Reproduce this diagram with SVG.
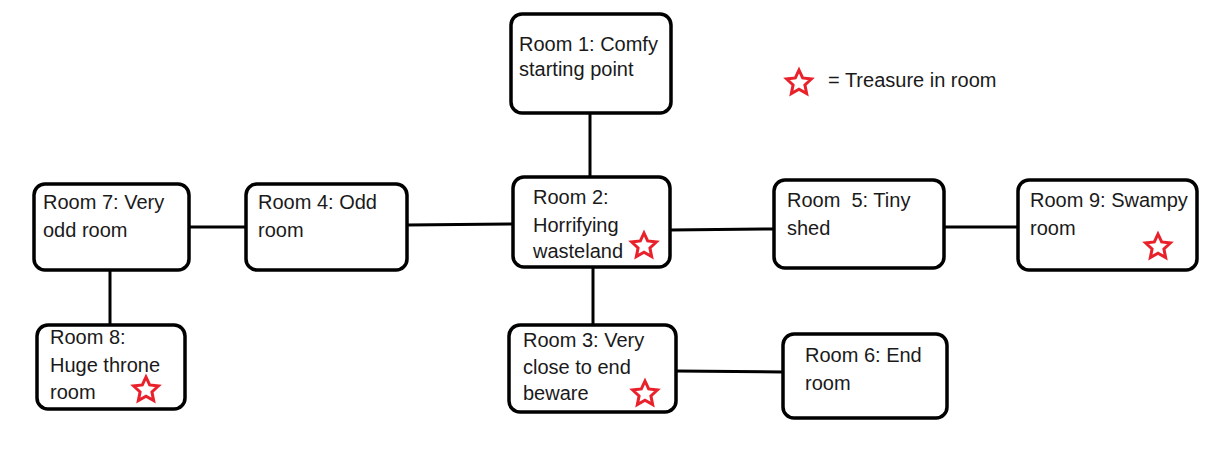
<svg xmlns="http://www.w3.org/2000/svg" xmlns:xlink="http://www.w3.org/1999/xlink" width="1224" height="452" viewBox="0 0 1224 452">
<style>
.box{fill:#fff;stroke:#000;stroke-width:3.5}
.lbl{font-family:"Liberation Sans",Arial,sans-serif;font-size:20px;fill:#1a1a1a;white-space:pre}
.conn line{stroke:#000;stroke-width:3}
.star{fill:#fff;stroke:#e8212b;stroke-width:3;stroke-linejoin:miter}
</style>
<defs>
<path id="star" class="star" d="M0,-13 L3.64,-5.02 L12.36,-4.02 L5.9,1.92 L7.64,10.52 L0,6.2 L-7.64,10.52 L-5.9,1.92 L-12.36,-4.02 L-3.64,-5.02 Z"/>
</defs>
<rect width="1224" height="452" fill="#fff"/>
<g id="connectors" class="conn">
<line x1="590" y1="113" x2="590" y2="177"/>
<line x1="593" y1="266" x2="593" y2="325"/>
<line x1="407" y1="225" x2="514" y2="224"/>
<line x1="189" y1="227" x2="247" y2="227"/>
<line x1="110" y1="269" x2="110" y2="325"/>
<line x1="670" y1="230" x2="774" y2="229"/>
<line x1="944" y1="227" x2="1018" y2="227"/>
<line x1="676" y1="371" x2="783" y2="372"/>
</g>
<g id="room1">
<rect class="box" x="511" y="14" width="160" height="99" rx="11"/>
<text class="lbl" x="519" y="51">Room 1: Comfy</text>
<text class="lbl" x="519" y="76">starting point</text>
</g>
<g id="room2">
<rect class="box" x="513" y="177" width="157" height="90" rx="11"/>
<text class="lbl" x="533" y="204">Room 2:</text>
<text class="lbl" x="533" y="232">Horrifying</text>
<text class="lbl" x="533" y="258">wasteland</text>
<use xlink:href="#star" x="644" y="246"/>
</g>
<g id="room3">
<rect class="box" x="509" y="325" width="167" height="87" rx="11"/>
<text class="lbl" x="523" y="347">Room 3: Very</text>
<text class="lbl" x="523" y="374">close to end</text>
<text class="lbl" x="523" y="400">beware</text>
<use xlink:href="#star" x="645" y="394"/>
</g>
<g id="room4">
<rect class="box" x="246" y="184" width="161" height="86" rx="11"/>
<text class="lbl" x="258" y="209">Room 4: Odd</text>
<text class="lbl" x="258" y="237">room</text>
</g>
<g id="room5">
<rect class="box" x="774" y="180" width="170" height="88" rx="11"/>
<text class="lbl" x="787" y="207">Room  5: Tiny</text>
<text class="lbl" x="787" y="235">shed</text>
</g>
<g id="room6">
<rect class="box" x="783" y="334" width="164" height="84" rx="11"/>
<text class="lbl" x="805" y="362">Room 6: End</text>
<text class="lbl" x="805" y="390">room</text>
</g>
<g id="room7">
<rect class="box" x="34" y="184" width="155" height="86" rx="11"/>
<text class="lbl" x="43" y="209">Room 7: Very</text>
<text class="lbl" x="43" y="237">odd room</text>
</g>
<g id="room8">
<rect class="box" x="37" y="325" width="148" height="84" rx="11"/>
<text class="lbl" x="50" y="344">Room 8:</text>
<text class="lbl" x="50" y="372">Huge throne</text>
<text class="lbl" x="50" y="399">room</text>
<use xlink:href="#star" x="146" y="390"/>
</g>
<g id="room9">
<rect class="box" x="1018" y="180" width="179" height="90" rx="11"/>
<text class="lbl" x="1030" y="207">Room 9: Swampy</text>
<text class="lbl" x="1030" y="235">room</text>
<use xlink:href="#star" x="1158" y="247"/>
</g>
<g id="legend">
<use xlink:href="#star" x="799" y="83"/>
<text class="lbl" x="828" y="87">= Treasure in room</text>
</g>
</svg>
